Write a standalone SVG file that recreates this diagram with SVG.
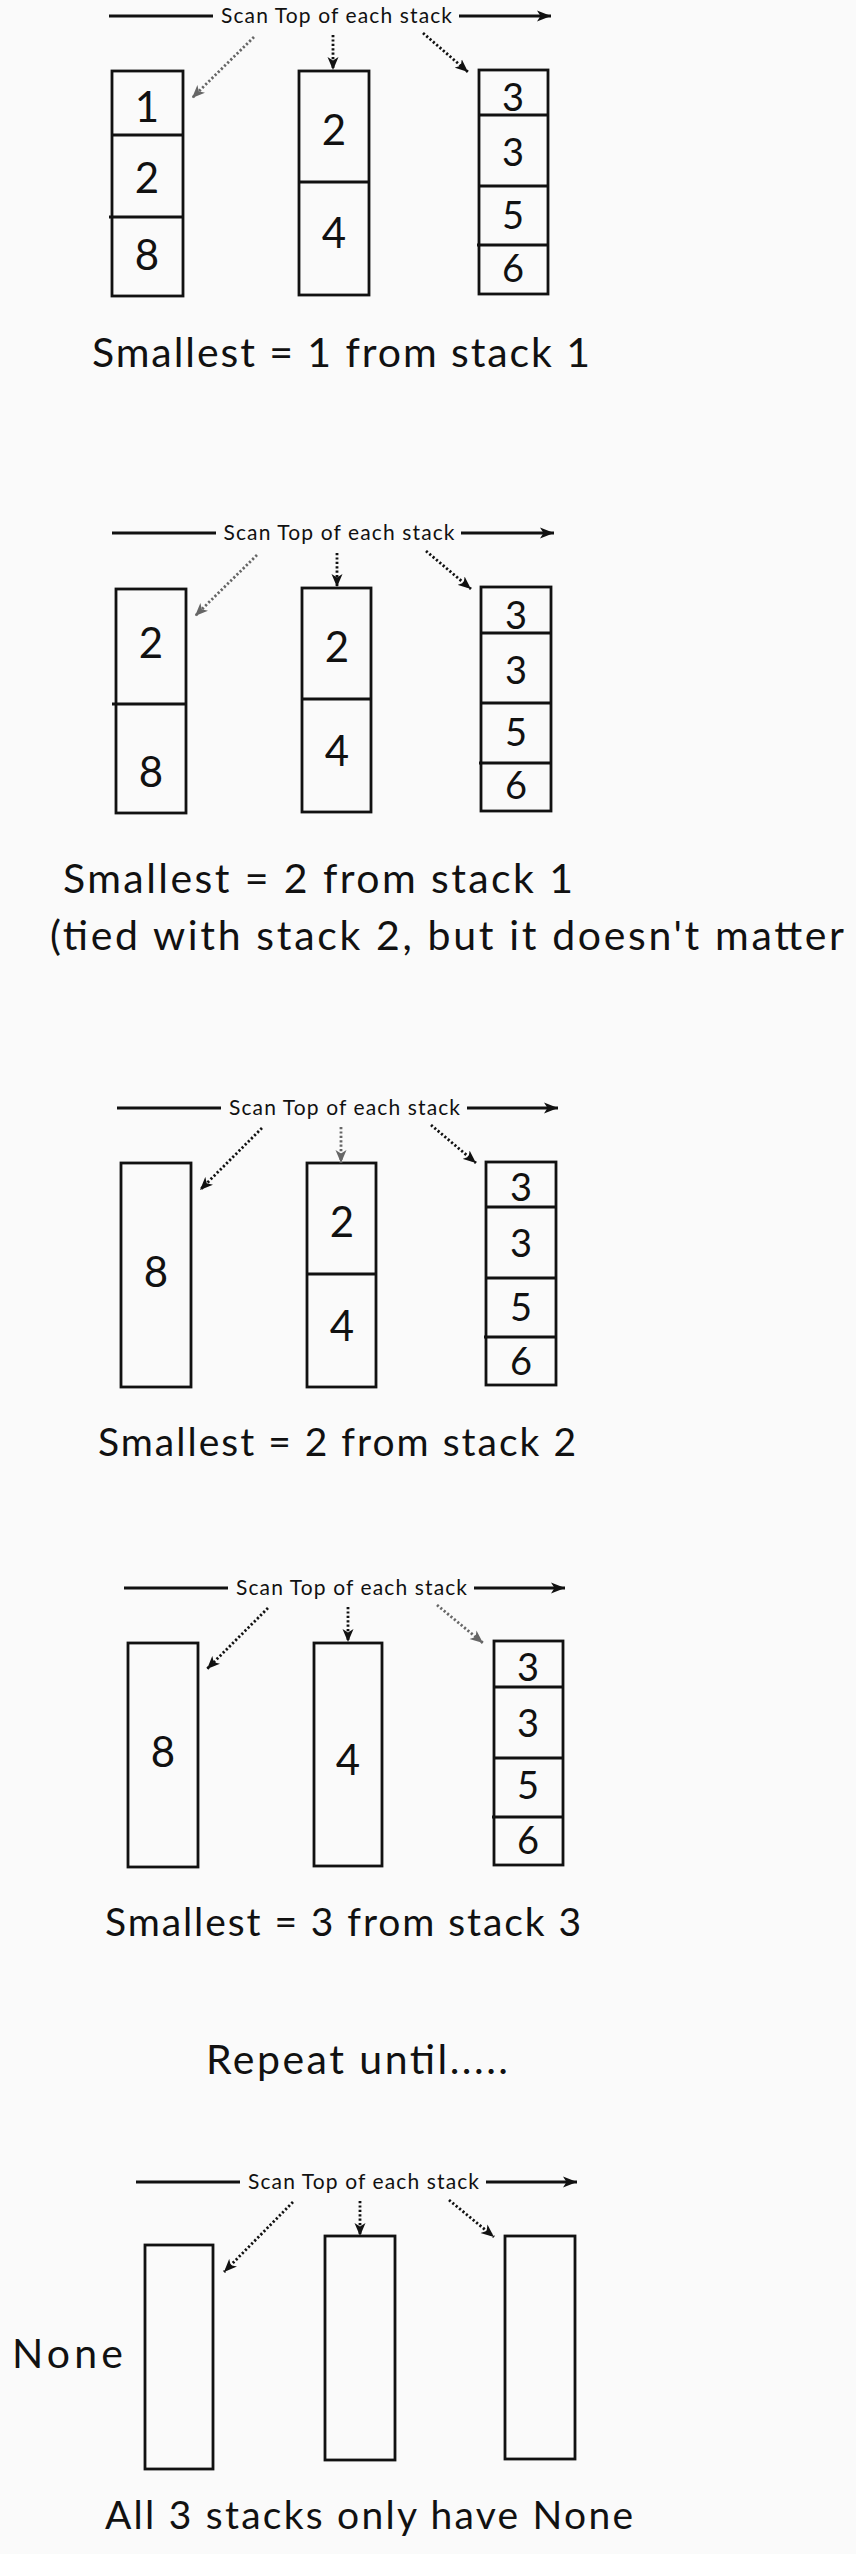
<svg xmlns="http://www.w3.org/2000/svg" width="856" height="2554" viewBox="0 0 856 2554">
<defs>
<style>
.bg{fill:#fafafa}
.box{fill:none;stroke:#111;stroke-width:2.8}
.div{stroke:#111;stroke-width:2.8}
.scan{stroke:#111;stroke-width:2.8;fill:none}
.dot{stroke:#111;stroke-width:2.8;stroke-dasharray:2.2 2.2;fill:none}
.dotg{stroke:#666;stroke-width:2.8;stroke-dasharray:2.2 2.2;fill:none}
text{font-family:Lato,"Open Sans","Liberation Sans",sans-serif;fill:#111}
.st{font-size:21px;text-anchor:middle}
.num{font-size:42px;text-anchor:middle}
.num3{font-size:38px;text-anchor:middle}
.cap{font-size:41px}
.cap2{font-size:39px}
</style>
<marker id="ah" markerUnits="userSpaceOnUse" markerWidth="14" markerHeight="12" refX="13" refY="6" orient="auto">
<path d="M0,0.5 L13,6 L0,11.5 L3.5,6 Z" fill="#111"/>
</marker>
<marker id="ahg" markerUnits="userSpaceOnUse" markerWidth="14" markerHeight="12" refX="13" refY="6" orient="auto">
<path d="M0,0.5 L13,6 L0,11.5 L3.5,6 Z" fill="#666"/>
</marker>
<marker id="ahs" markerUnits="userSpaceOnUse" markerWidth="15" markerHeight="12" refX="14" refY="6" orient="auto">
<path d="M0,0.5 L14,6 L0,11.5 L3.5,6 Z" fill="#111"/>
</marker>
</defs>
<rect class="bg" x="0" y="0" width="856" height="2554"/>

<!-- Panel 1 -->
<g id="p1-stack1">
<rect class="box" x="112" y="71" width="71" height="225"/>
<line class="div" x1="112" y1="135" x2="183" y2="135"/>
<line class="div" x1="109" y1="217" x2="183" y2="217"/>
<text class="num" x="147" y="122">1</text>
<text class="num" x="147" y="193">2</text>
<text class="num" x="147" y="270">8</text>
</g>
<g id="p1-stack2">
<rect class="box" x="299" y="71" width="70" height="224"/>
<line class="div" x1="299" y1="182" x2="369" y2="182"/>
<text class="num" x="334" y="145">2</text>
<text class="num" x="334" y="248">4</text>
</g>
<g id="p1-stack3">
<rect class="box" x="479" y="70" width="69" height="224"/>
<line class="div" x1="479" y1="115" x2="548" y2="115"/>
<line class="div" x1="479" y1="186" x2="548" y2="186"/>
<line class="div" x1="477" y1="245" x2="548" y2="245"/>
<text class="num3" x="513" y="111">3</text>
<text class="num3" x="513" y="166">3</text>
<text class="num3" x="513" y="229">5</text>
<text class="num3" x="513" y="282">6</text>
</g>
<g id="p1-scan">
<text class="st" x="336.5" y="23" textLength="231" lengthAdjust="spacing">Scan Top of each stack</text>
</g>
<g id="p1-connectors">
<line class="scan" x1="109" y1="16" x2="213" y2="16"/>
<line class="scan" x1="459" y1="16" x2="551" y2="16" marker-end="url(#ahs)"/>
<line class="dotg" x1="254" y1="37" x2="192" y2="98" marker-end="url(#ahg)"/>
<line class="dot" x1="333" y1="35" x2="333" y2="70" marker-end="url(#ah)"/>
<line class="dot" x1="423" y1="33" x2="468" y2="72" marker-end="url(#ah)"/>
</g>
<g id="p1-caption"><text class="cap" x="92" y="367" textLength="498" lengthAdjust="spacing">Smallest = 1 from stack 1</text></g>

<!-- Panel 2 -->
<g id="p2-stack1">
<rect class="box" x="116" y="589" width="70" height="224"/>
<line class="div" x1="112" y1="704" x2="186" y2="704"/>
<text class="num" x="151" y="658">2</text>
<text class="num" x="151" y="787">8</text>
</g>
<g id="p2-stack2">
<rect class="box" x="302" y="588" width="69" height="224"/>
<line class="div" x1="302" y1="699" x2="371" y2="699"/>
<text class="num" x="337" y="662">2</text>
<text class="num" x="337" y="766">4</text>
</g>
<g id="p2-stack3">
<rect class="box" x="481" y="587" width="70" height="224"/>
<line class="div" x1="481" y1="633" x2="551" y2="633"/>
<line class="div" x1="481" y1="703" x2="551" y2="703"/>
<line class="div" x1="479" y1="763" x2="551" y2="763"/>
<text class="num3" x="516" y="629">3</text>
<text class="num3" x="516" y="684">3</text>
<text class="num3" x="516" y="746">5</text>
<text class="num3" x="516" y="799">6</text>
</g>
<g id="p2-scan">
<text class="st" x="339" y="540" textLength="231" lengthAdjust="spacing">Scan Top of each stack</text>
</g>
<g id="p2-connectors">
<line class="scan" x1="112" y1="533" x2="216" y2="533"/>
<line class="scan" x1="461" y1="533" x2="554" y2="533" marker-end="url(#ahs)"/>
<line class="dotg" x1="257" y1="555" x2="195" y2="616" marker-end="url(#ahg)"/>
<line class="dot" x1="337" y1="553" x2="337" y2="587" marker-end="url(#ah)"/>
<line class="dot" x1="426" y1="551" x2="471" y2="589" marker-end="url(#ah)"/>
</g>
<g id="p2-caption">
<text class="cap" x="63" y="893" textLength="510" lengthAdjust="spacing">Smallest = 2 from stack 1</text>
<text class="cap" x="50" y="950" textLength="794" lengthAdjust="spacing">(tied with stack 2, but it doesn't matter</text>
</g>

<!-- Panel 3 -->
<g id="p3-stack1">
<rect class="box" x="121" y="1163" width="70" height="224"/>
<text class="num" x="156" y="1287">8</text>
</g>
<g id="p3-stack2">
<rect class="box" x="307" y="1163" width="69" height="224"/>
<line class="div" x1="307" y1="1274" x2="376" y2="1274"/>
<text class="num" x="342" y="1237">2</text>
<text class="num" x="342" y="1341">4</text>
</g>
<g id="p3-stack3">
<rect class="box" x="486" y="1162" width="70" height="223"/>
<line class="div" x1="486" y1="1207" x2="556" y2="1207"/>
<line class="div" x1="486" y1="1278" x2="556" y2="1278"/>
<line class="div" x1="484" y1="1337" x2="556" y2="1337"/>
<text class="num3" x="521" y="1201">3</text>
<text class="num3" x="521" y="1257">3</text>
<text class="num3" x="521" y="1321">5</text>
<text class="num3" x="521" y="1375">6</text>
</g>
<g id="p3-scan">
<text class="st" x="344.5" y="1115" textLength="231" lengthAdjust="spacing">Scan Top of each stack</text>
</g>
<g id="p3-connectors">
<line class="scan" x1="117" y1="1108" x2="221" y2="1108"/>
<line class="scan" x1="467" y1="1108" x2="558" y2="1108" marker-end="url(#ahs)"/>
<line class="dot" x1="262" y1="1128" x2="200" y2="1190" marker-end="url(#ah)"/>
<line class="dotg" x1="341" y1="1127" x2="341" y2="1163" marker-end="url(#ahg)"/>
<line class="dot" x1="431" y1="1125" x2="476" y2="1163" marker-end="url(#ah)"/>
</g>
<g id="p3-caption"><text class="cap2" x="98" y="1456" textLength="478" lengthAdjust="spacing">Smallest = 2 from stack 2</text></g>

<!-- Panel 4 -->
<g id="p4-stack1">
<rect class="box" x="128" y="1643" width="70" height="224"/>
<text class="num" x="163" y="1767">8</text>
</g>
<g id="p4-stack2">
<rect class="box" x="314" y="1643" width="68" height="223"/>
<text class="num" x="348" y="1775">4</text>
</g>
<g id="p4-stack3">
<rect class="box" x="494" y="1641" width="69" height="224"/>
<line class="div" x1="494" y1="1687" x2="563" y2="1687"/>
<line class="div" x1="494" y1="1758" x2="563" y2="1758"/>
<line class="div" x1="492" y1="1817" x2="563" y2="1817"/>
<text class="num3" x="528" y="1681">3</text>
<text class="num3" x="528" y="1737">3</text>
<text class="num3" x="528" y="1799">5</text>
<text class="num3" x="528" y="1854">6</text>
</g>
<g id="p4-scan">
<text class="st" x="351.5" y="1595" textLength="231" lengthAdjust="spacing">Scan Top of each stack</text>
</g>
<g id="p4-connectors">
<line class="scan" x1="124" y1="1588" x2="228" y2="1588"/>
<line class="scan" x1="474" y1="1588" x2="565" y2="1588" marker-end="url(#ahs)"/>
<line class="dot" x1="268" y1="1608" x2="207" y2="1669" marker-end="url(#ah)"/>
<line class="dot" x1="348" y1="1607" x2="348" y2="1642" marker-end="url(#ah)"/>
<line class="dotg" x1="437" y1="1605" x2="483" y2="1643" marker-end="url(#ahg)"/>
</g>
<g id="p4-caption"><text class="cap2" x="105" y="1936" textLength="476" lengthAdjust="spacing">Smallest = 3 from stack 3</text></g>

<!-- Repeat -->
<g id="repeat"><text class="cap" x="206" y="2074" textLength="302" lengthAdjust="spacing">Repeat until.....</text></g>

<!-- Panel 5 -->
<g id="p5-stack1"><rect class="box" x="145" y="2245" width="68" height="224"/></g>
<g id="p5-stack2"><rect class="box" x="325" y="2236" width="70" height="224"/></g>
<g id="p5-stack3"><rect class="box" x="505" y="2236" width="70" height="223"/></g>
<g id="p5-none"><text class="cap" x="12" y="2368" textLength="111" lengthAdjust="spacing">None</text></g>
<g id="p5-scan">
<text class="st" x="363.5" y="2189" textLength="231" lengthAdjust="spacing">Scan Top of each stack</text>
</g>
<g id="p5-connectors">
<line class="scan" x1="136" y1="2182" x2="240" y2="2182"/>
<line class="scan" x1="486" y1="2182" x2="577" y2="2182" marker-end="url(#ahs)"/>
<line class="dot" x1="293" y1="2202" x2="224" y2="2272" marker-end="url(#ah)"/>
<line class="dot" x1="360" y1="2201" x2="360" y2="2236" marker-end="url(#ah)"/>
<line class="dot" x1="449" y1="2200" x2="494" y2="2237" marker-end="url(#ah)"/>
</g>
<g id="p5-caption"><text class="cap2" x="105" y="2529" textLength="528" lengthAdjust="spacing">All 3 stacks only have None</text></g>
</svg>
